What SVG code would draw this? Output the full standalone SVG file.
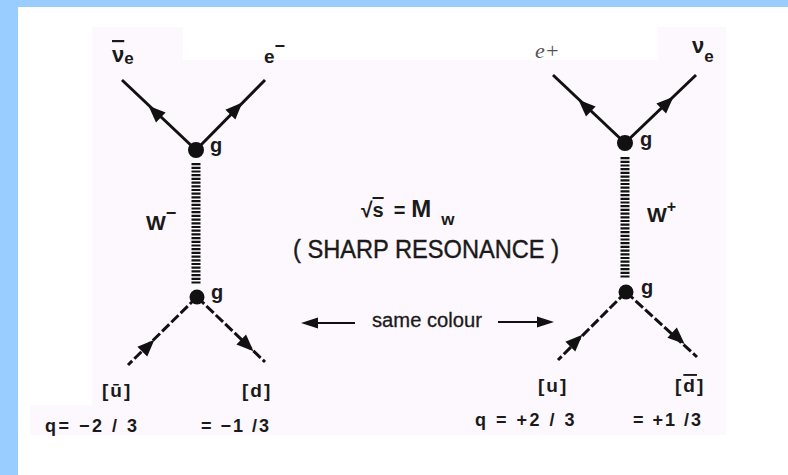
<svg xmlns="http://www.w3.org/2000/svg" width="788" height="475" viewBox="0 0 788 475">
<defs>
<style>
.f{stroke:#111;stroke-width:3;fill:none;stroke-linecap:butt}
.fd{stroke:#111;stroke-width:3;fill:none;stroke-dasharray:10 3}
.w{stroke:#111;stroke-width:9;fill:none;stroke-dasharray:2.2 1.5}
.v{fill:#111}
.t{font-family:"Liberation Sans",Arial,sans-serif;fill:#1a1a1a}
.b{font-weight:bold}
.ol{text-decoration:overline}
</style>
<path id="ah" d="M9,0 L-8,-7 L-8,7 Z" fill="#111"/>
</defs>
<rect x="0" y="0" width="788" height="475" fill="#ffffff"/>
<rect x="0" y="0" width="788" height="7" fill="#99ccff"/>
<rect x="0" y="0" width="18" height="475" fill="#99ccff"/>
<path d="M92,27 H183 V60 H658 V27 H726 V435 H30 V405 H92 Z" fill="#fdf8fd"/>

<g id="connectors">
<line class="f" x1="196" y1="150" x2="122" y2="80"/>
<line class="f" x1="196" y1="150" x2="265" y2="80"/>
<line class="w" x1="196" y1="163" x2="196" y2="285"/>
<line class="fd" x1="197" y1="297" x2="128" y2="365"/>
<line class="fd" x1="197" y1="297" x2="265" y2="362"/>
<use href="#ah" transform="translate(155,112) rotate(-136.6)"/>
<use href="#ah" transform="translate(236,109) rotate(-45.4)"/>
<use href="#ah" transform="translate(148,346) rotate(-44.6)"/>
<use href="#ah" transform="translate(247,345) rotate(43.7)"/>

<line class="f" x1="625" y1="143" x2="553" y2="75"/>
<line class="f" x1="625" y1="143" x2="696" y2="75"/>
<line class="w" x1="625" y1="157" x2="625" y2="279"/>
<line class="fd" x1="626" y1="292" x2="558" y2="360"/>
<line class="fd" x1="626" y1="292" x2="697" y2="357"/>
<use href="#ah" transform="translate(585,106) rotate(-136.6)"/>
<use href="#ah" transform="translate(667,103) rotate(-43.8)"/>
<use href="#ah" transform="translate(576,341) rotate(-45)"/>
<use href="#ah" transform="translate(678,338) rotate(42.5)"/>

<line x1="310" y1="323" x2="355" y2="323" stroke="#111" stroke-width="2"/>
<use href="#ah" transform="translate(310,323) rotate(180) scale(1,0.8)"/>
<line x1="498" y1="322" x2="545" y2="322" stroke="#111" stroke-width="2"/>
<use href="#ah" transform="translate(545,322) scale(1,0.8)"/>
</g>

<g id="vertex-left-top">
<circle class="v" cx="196" cy="150" r="8"/>
<text class="t b" x="210" y="152" font-size="20">g</text>
</g>
<g id="vertex-left-bottom">
<circle class="v" cx="197" cy="297" r="7.5"/>
<text class="t b" x="211" y="299" font-size="20">g</text>
</g>
<g id="vertex-right-top">
<circle class="v" cx="625" cy="143" r="8"/>
<text class="t b" x="640" y="146" font-size="20">g</text>
</g>
<g id="vertex-right-bottom">
<circle class="v" cx="626" cy="292" r="7.5"/>
<text class="t b" x="641" y="294" font-size="20">g</text>
</g>

<g id="label-nubar-e">
<text class="t b" x="112" y="62" font-size="22"><tspan class="ol">ν</tspan><tspan font-size="17" dy="2">e</tspan></text>
</g>
<g id="label-e-minus">
<text class="t b" x="264" y="63" font-size="19">e<tspan font-size="18" dy="-11">−</tspan></text>
</g>
<g id="label-W-minus">
<text class="t b" x="146" y="230" font-size="21">W<tspan font-size="18" dy="-11">−</tspan></text>
</g>
<g id="label-e-plus">
<text x="535" y="58" font-size="22" font-family="'Liberation Serif','Times New Roman',serif" font-style="italic" fill="#555">e+</text>
</g>
<g id="label-nu-e">
<text class="t b" x="692" y="53" font-size="22">ν<tspan font-size="17" dy="9">e</tspan></text>
</g>
<g id="label-W-plus">
<text class="t b" x="647" y="222" font-size="21">W<tspan font-size="16" dy="-10">+</tspan></text>
</g>

<g id="center-text">
<text class="t b" x="361" y="217" font-size="21">√<tspan class="ol" font-size="20">s</tspan><tspan dx="10" font-size="20">=</tspan><tspan dx="6" font-size="24">M</tspan><tspan dx="10" dy="8" font-size="17">w</tspan></text>
<text class="t" x="293" y="258" font-size="25" stroke="#1a1a1a" stroke-width="0.4" textLength="266" lengthAdjust="spacingAndGlyphs">( SHARP RESONANCE )</text>
<text class="t" x="372" y="327" font-size="20" stroke="#1a1a1a" stroke-width="0.3" textLength="110" lengthAdjust="spacingAndGlyphs">same colour</text>
</g>

<g id="label-ubar">
<text class="t b" x="102" y="397" font-size="19" letter-spacing="2">[ū]</text>
</g>
<g id="label-d">
<text class="t b" x="242" y="397" font-size="19" letter-spacing="2">[d]</text>
</g>
<g id="label-u">
<text class="t b" x="538" y="392" font-size="19" letter-spacing="2">[u]</text>
</g>
<g id="label-dbar">
<text class="t b" x="675" y="392" font-size="19" letter-spacing="2">[<tspan class="ol">d</tspan>]</text>
</g>

<g id="charges">
<text class="t b" x="45" y="432" font-size="18" letter-spacing="2.5">q= −2 / 3</text>
<text class="t b" x="201" y="432" font-size="18" letter-spacing="2">= −1 /3</text>
<text class="t b" x="475" y="426" font-size="18" letter-spacing="2.5">q = +2 / 3</text>
<text class="t b" x="633" y="426" font-size="18" letter-spacing="2">= +1 /3</text>
</g>
</svg>
